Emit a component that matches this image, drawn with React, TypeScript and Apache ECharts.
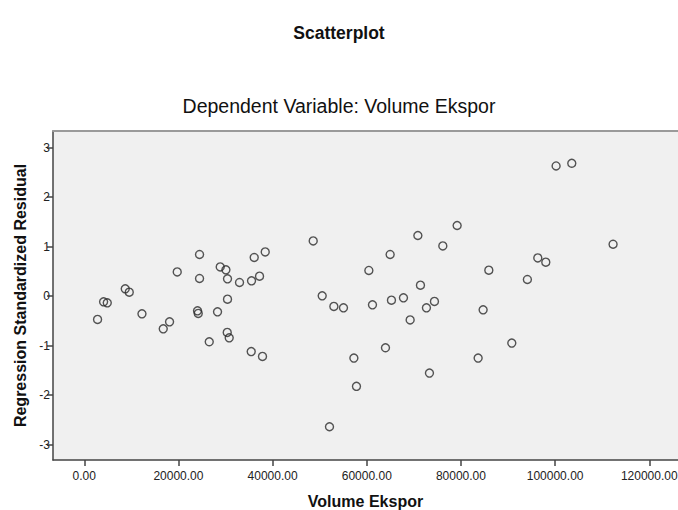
import React, { useEffect, useRef } from "react";
import * as echarts from "echarts";

const volumeEkspor: number[] = [
  2820, 4100, 4880, 8700, 9550, 12250, 16770, 18110, 19740, 24050,
  24200, 24480, 24480, 26540, 28300, 28870, 30080, 30420, 30420, 30360,
  30780, 32970, 35450, 35520, 36090, 37220, 37850, 38430, 48620, 50530,
  52080, 53010, 55050, 57260, 57810, 60440, 61210, 63970, 64960, 65240,
  67790, 69210, 70850, 71400, 72670, 73310, 74370, 76150, 79190, 83650,
  84710, 85920, 90800, 94110, 96320, 98020, 100210, 103540, 112310,
];

const standardizedResidual: number[] = [
  -0.47, -0.115, -0.135, 0.147, 0.081, -0.357, -0.66, -0.519, 0.49, -0.297,
  -0.349, 0.842, 0.357, -0.922, -0.317, 0.591, 0.531, 0.349, -0.061, -0.733,
  -0.842, 0.276, -1.12, 0.309, 0.781, 0.404, -1.217, 0.894, 1.116, 0.006,
  -2.638, -0.208, -0.236, -1.251, -1.822, 0.519, -0.176, -1.043, 0.842, -0.081,
  -0.034, -0.48, 1.225, 0.222, -0.236, -1.554, -0.107, 1.015, 1.427, -1.251,
  -0.276, 0.525, -0.949, 0.337, 0.773, 0.686, 2.63, 2.684, 1.049,
];

const xTicks: number[] = [0, 20000, 40000, 60000, 80000, 100000, 120000];
const yTicks: number[] = [-3, -2, -1, 0, 1, 2, 3];

const titleText = "Scatterplot";
const subtitleText = "Dependent Variable: Volume Ekspor";
const xName = "Volume Ekspor";
const yName = "Regression Standardized Residual";

const FONT = "'Liberation Sans', Arial, Helvetica, sans-serif";

export default function App() {
  const ref = useRef<HTMLDivElement>(null);

  useEffect(() => {
    if (!ref.current) return;
    const chart = echarts.init(ref.current, undefined, { renderer: "svg" });
    const points = volumeEkspor.map((x, i) => [x, standardizedResidual[i]]);
    chart.setOption({
      animation: false,
      backgroundColor: "#ffffff",
      title: [
        {
          text: titleText,
          left: "center",
          top: 19,
          textStyle: { fontFamily: FONT, fontSize: 17.5, fontWeight: "bold", color: "#111" },
        },
        {
          text: subtitleText,
          left: "center",
          top: 91,
          textStyle: { fontFamily: FONT, fontSize: 19.5, fontWeight: "normal", color: "#111" },
        },
      ],
      grid: {
        left: 53,
        top: 131,
        right: 0,
        bottom: 50,
        show: true,
        backgroundColor: "#f0f0f0",
        borderWidth: 0,
        containLabel: false,
        outerBoundsMode: "none",
      },
      xAxis: [
        {
          type: "value",
          min: -6645,
          max: 126100,
          position: "bottom",
          name: xName,
          nameLocation: "middle",
          nameGap: 33,
          nameTextStyle: { fontFamily: FONT, fontSize: 16, fontWeight: "bold", color: "#111" },
          splitLine: { show: false },
          axisLine: { show: true, onZero: false, lineStyle: { color: "#444", width: 1.5 } },
          axisTick: { show: true, length: 6, customValues: xTicks, lineStyle: { color: "#444", width: 1.5 } },
          axisLabel: {
            customValues: xTicks,
            margin: 10,
            fontFamily: FONT,
            fontSize: 12,
            color: "#222",
            formatter: (v: number) => v.toFixed(2),
          },
        },
        {
          type: "value",
          min: -6645,
          max: 126100,
          position: "top",
          splitLine: { show: false },
          axisLine: { show: true, onZero: false, lineStyle: { color: "#9a9a9a", width: 2 } },
          axisTick: { show: false },
          axisLabel: { show: false },
        },
      ],
      yAxis: {
        type: "value",
        min: -3.31,
        max: 3.336,
        name: yName,
        nameLocation: "middle",
        nameGap: 24,
        nameTextStyle: { fontFamily: FONT, fontSize: 16, fontWeight: "bold", color: "#111" },
        splitLine: { show: false },
        axisLine: { show: true, onZero: false, lineStyle: { color: "#444", width: 1.5 } },
        axisTick: { show: true, length: 6, customValues: yTicks, lineStyle: { color: "#444", width: 1.5 } },
        axisLabel: {
          customValues: yTicks,
          margin: 3,
          fontFamily: FONT,
          fontSize: 12,
          color: "#222",
          formatter: (v: number) => String(Math.round(v)),
        },
      },
      series: [
        {
          type: "scatter",
          xAxisIndex: 0,
          data: points,
          symbol: "circle",
          symbolSize: 8,
          itemStyle: { color: "rgba(0,0,0,0)", borderColor: "#2a2a2a", borderWidth: 1.4 },
          emphasis: { disabled: true },
        },
      ],
    });
    return () => chart.dispose();
  }, []);

  return (
    <div
      ref={ref}
      style={{ position: "absolute", left: 0, top: 0, width: 678, height: 510 }}
    />
  );
}
